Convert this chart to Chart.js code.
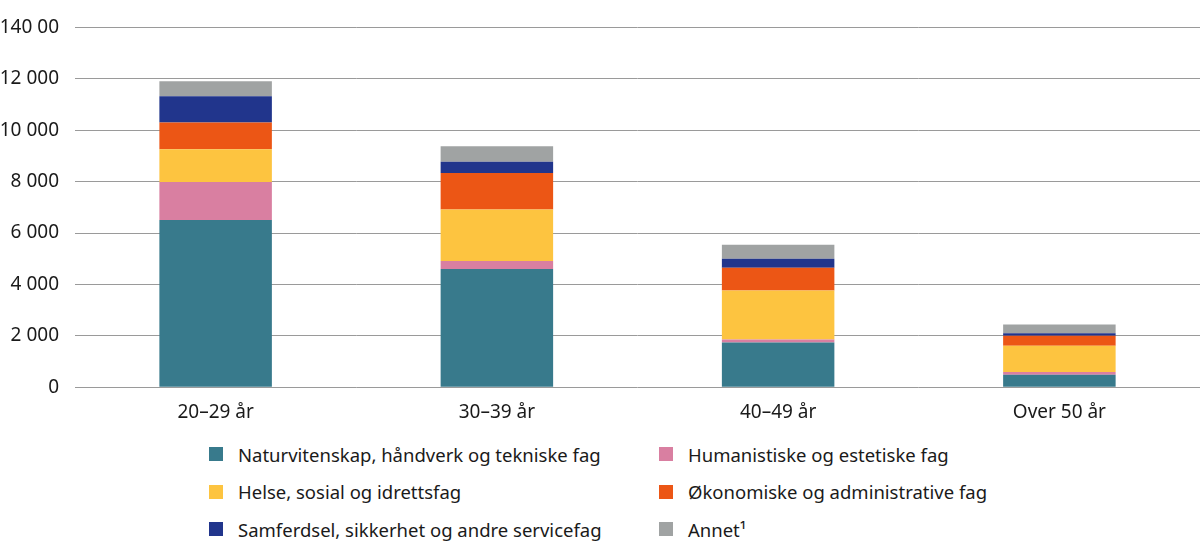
<!DOCTYPE html>
<html>
<head>
<meta charset="utf-8">
<script src="https://cdn.jsdelivr.net/npm/chart.js@4"></script>
<style>
  html, body { margin: 0; padding: 0; background: #fff; }
  #wrap { position: relative; width: 1200px; height: 558px; font-family: "Noto Sans", sans-serif; }
  #chartBox { position: absolute; left: 0; top: 0; width: 1200px; height: 440px; }
  #legend { position: absolute; left: 209px; top: 440px; width: 900px; }
  .item { position: absolute; display: flex; align-items: center; font-size: 18.5px; color: #1a1a1a; white-space: nowrap; height: 28px; }
  .box { width: 14px; height: 14px; margin-right: 15px; }
</style>
</head>
<body>
<div id="wrap">
  <div id="chartBox"><canvas id="c"></canvas></div>
  <div id="legend"></div>
</div>
<script>
const categories = ["20–29 år", "30–39 år", "40–49 år", "Over 50 år"];
const seriesNames = [
  "Naturvitenskap, håndverk og tekniske fag",
  "Humanistiske og estetiske fag",
  "Helse, sosial og idrettsfag",
  "Økonomiske og administrative fag",
  "Samferdsel, sikkerhet og andre servicefag",
  "Annet¹"
];
const naturvitenskap = [6510, 4600, 1740, 480];
const humanistiske   = [1470, 310, 120, 110];
const helse          = [1280, 2000, 1900, 1020];
const okonomiske     = [1040, 1420, 890, 390];
const samferdsel     = [1020, 440, 350, 100];
const annet          = [580, 610, 540, 340];
const yTickLabels = ["0", "2 000", "4 000", "6 000", "8 000", "10 000", "12 000", "140 00"];
const colors = ["#387A8C", "#D97FA1", "#FDC440", "#EC5615", "#21358C", "#A0A3A3"];

const seriesValues = [naturvitenskap, humanistiske, helse, okonomiske, samferdsel, annet];

const chart = new Chart(document.getElementById("c"), {
  type: "bar",
  data: {
    labels: categories,
    datasets: seriesValues.map((v, i) => ({
      label: seriesNames[i],
      data: v,
      backgroundColor: colors[i],
      borderWidth: 0,
      barPercentage: 0.8,
      categoryPercentage: 0.5
    }))
  },
  options: {
    responsive: true,
    maintainAspectRatio: false,
    animation: false,
    layout: { padding: { top: 26, right: 0, bottom: 10, left: 0 } },
    plugins: { legend: { display: false }, tooltip: { enabled: false } },
    scales: {
      x: {
        stacked: true,
        grid: { display: false },
        border: { display: false },
        ticks: { color: "#1a1a1a", font: { family: "Noto Sans", size: 19 }, padding: 6 }
      },
      y: {
        stacked: true,
        min: 0, max: 14000,
        afterFit: (s) => { s.width = 75; },
        border: { display: false },
        grid: { color: "#9a9a9a", lineWidth: 1, drawTicks: false },
        ticks: {
          stepSize: 2000,
          padding: 16,
          color: "#1a1a1a",
          font: { family: "Noto Sans", size: 19 },
          callback: (v) => yTickLabels[Math.round(v / 2000)]
        }
      }
    }
  }
});

const legend = document.getElementById("legend");
seriesNames.forEach((name, k) => {
  const col = k % 2, row = Math.floor(k / 2);
  const el = document.createElement("div");
  el.className = "item";
  el.style.left = (col * 450) + "px";
  el.style.top = (row * 37.5) + "px";
  const b = document.createElement("span");
  b.className = "box";
  b.style.background = chart.data.datasets[k].backgroundColor;
  const t = document.createElement("span");
  t.textContent = chart.data.datasets[k].label;
  el.appendChild(b); el.appendChild(t);
  legend.appendChild(el);
});
</script>
</body>
</html>
